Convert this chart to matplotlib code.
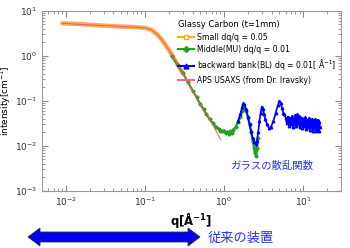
import numpy as np
import matplotlib
matplotlib.use('Agg')
import matplotlib.pyplot as plt
from matplotlib.patches import Polygon

plt.rcParams['font.family'] = ['DejaVu Sans', 'Noto Sans CJK JP']

# Small dq/q = 0.05 (SAXS, orange)
q_small = [0.009, 0.012, 0.016, 0.02, 0.03, 0.05, 0.07, 0.1, 0.12, 0.14, 0.16, 0.18, 0.21, 0.25, 0.3]
I_small = [5.3, 5.2, 5.1, 4.9, 4.7, 4.5, 4.4, 4.2, 3.8, 3.1, 2.4, 1.8, 1.2, 0.72, 0.42]

# APS USAXS (pink)
q_aps = [0.009, 0.02, 0.05, 0.1, 0.12, 0.14, 0.16, 0.18, 0.21, 0.25, 0.3, 0.4, 0.5, 0.6, 0.7, 0.8, 0.9]
I_aps = [5.3, 4.9, 4.5, 4.2, 3.8, 3.1, 2.4, 1.8, 1.2, 0.72, 0.42, 0.17, 0.085, 0.05, 0.032, 0.021, 0.014]

# Middle(MU) dq/q = 0.01 (green)
q_mid = [0.22, 0.26, 0.3, 0.35, 0.4, 0.45, 0.5, 0.55, 0.6, 0.66, 0.72, 0.8, 0.86, 0.9, 0.95, 1.0,
         1.05, 1.1, 1.15, 1.2, 1.25, 1.3, 1.4, 1.5, 1.6, 1.7, 1.8, 1.9, 2.0, 2.1, 2.2, 2.3, 2.4,
         2.45, 2.5, 2.55, 2.6, 2.7]
I_mid = [1.0, 0.62, 0.42, 0.26, 0.17, 0.12, 0.085, 0.065, 0.05, 0.039, 0.032, 0.026, 0.024, 0.022,
         0.021, 0.022, 0.019, 0.020, 0.018, 0.021, 0.019, 0.023, 0.026, 0.034, 0.045, 0.06, 0.07,
         0.06, 0.045, 0.03, 0.02, 0.013, 0.009, 0.007, 0.008, 0.006, 0.009, 0.015]

# backward bank(BL) dq = 0.01 (blue)
q_bl = [1.5, 1.6, 1.7, 1.75, 1.8, 1.9, 2.0, 2.1, 2.2, 2.3, 2.4, 2.5, 2.6, 2.7, 2.8, 2.9, 3.0,
        3.1, 3.2, 3.3, 3.5, 3.7, 3.9, 4.2, 4.5, 4.8, 5.0, 5.2, 5.4, 5.6, 5.8, 6.0, 6.2, 6.4,
        6.6, 6.8, 7.0, 7.2, 7.4, 7.6, 7.8, 8.0, 8.2, 8.4, 8.6, 8.8, 9.0, 9.2, 9.4, 9.6, 9.8,
        10.0, 10.3, 10.6, 10.9, 11.2, 11.5, 11.8, 12.1, 12.4, 12.7, 13.0, 13.3, 13.6, 13.9,
        14.2, 14.5, 14.8, 15.1, 15.4, 15.7, 16.0, 16.3]
I_bl = [0.035, 0.05, 0.075, 0.09, 0.085, 0.065, 0.045, 0.03, 0.021, 0.015, 0.012, 0.011, 0.013,
        0.02, 0.035, 0.055, 0.074, 0.065, 0.052, 0.04, 0.03, 0.025, 0.026, 0.035, 0.055, 0.08,
        0.1, 0.09, 0.07, 0.055, 0.05, 0.042, 0.032, 0.045, 0.028, 0.042, 0.03, 0.046, 0.027,
        0.04, 0.031, 0.048, 0.028, 0.05, 0.032, 0.046, 0.026, 0.044, 0.03, 0.042, 0.025, 0.04,
        0.028, 0.043, 0.024, 0.038, 0.027, 0.041, 0.023, 0.037, 0.026, 0.04, 0.022, 0.036,
        0.025, 0.039, 0.022, 0.035, 0.024, 0.038, 0.021, 0.034, 0.026]

fig = plt.figure(figsize=(3.5, 2.48), dpi=100)
ax = fig.add_axes([0.12, 0.23, 0.854, 0.726])

ax.plot(q_small, I_small, color='#FFA030', lw=3.2, alpha=0.85, solid_capstyle='round')
ax.plot(q_mid, I_mid, color='#22A022', lw=1.6, marker='D', ms=1.6)
ax.plot(q_bl, I_bl, color='#0000FF', lw=1.2, marker='^', ms=1.8)
ax.plot(q_aps, I_aps, color='#FF5060', lw=0.7)

# legend handles
h1, = ax.plot([], [], color='#FFB000', lw=1.5, marker='s', ms=3.5, mfc='white', mec='#FFB000')
h2, = ax.plot([], [], color='#22A022', lw=1.5, marker='D', ms=3)
h3, = ax.plot([], [], color='#0000FF', lw=1.5, marker='^', ms=3.5)
h4, = ax.plot([], [], color='#FF6688', lw=1.5)
leg = ax.legend([h1, h2, h3, h4],
                ['Small dq/q = 0.05', 'Middle(MU) dq/q = 0.01',
                 'backward bank(BL) dq = 0.01[ $\\mathrm{\\AA}^{-1}$]',
                 'APS USAXS (from Dr. Iravsky)'],
                title='Glassy Carbon (t=1mm)', loc='upper left',
                bbox_to_anchor=(178 / 350, 1 - 20 / 248), bbox_transform=fig.transFigure,
                frameon=False, fontsize=5.6, title_fontsize=6.0, handlelength=2.0,
                handletextpad=0.4, labelspacing=0.45, borderpad=0, borderaxespad=0)
leg._legend_box.align = 'left'

ax.set_xscale('log')
ax.set_yscale('log')
ax.set_xlim(0.005, 30)
ax.set_ylim(1e-3, 1e1)
ax.tick_params(which='both', direction='in', top=True, right=True, colors='#888888',
               labelcolor='#333333', labelsize=6.5)
ax.tick_params(which='major', length=4)
ax.tick_params(which='minor', length=2)
for s in ax.spines.values():
    s.set_color('#999999')

ax.set_xlabel('q[$\\mathbf{\\AA^{-1}}$]', fontsize=8.5, fontweight='bold', labelpad=2)
ax.set_ylabel('intensity[cm$^{-1}$]', fontsize=6.5, labelpad=1)

ax.text(0.63, 0.14, 'ガラスの散乱関数', transform=ax.transAxes, color='#2233EE',
        fontsize=7.5, family=['Noto Sans CJK JP'], va='center')

# double-headed arrow (pixel coords of the figure)
x0, x1, yc, tw, hw, hl = 28, 200, 248 - 237, 5, 9, 12
pts = [(x0, yc), (x0 + hl, yc + hw), (x0 + hl, yc + tw), (x1 - hl, yc + tw), (x1 - hl, yc + hw),
       (x1, yc), (x1 - hl, yc - hw), (x1 - hl, yc - tw), (x0 + hl, yc - tw), (x0 + hl, yc - hw)]
pts = [(px / 350, py / 248) for px, py in pts]
fig.patches.append(Polygon(pts, closed=True, transform=fig.transFigure,
                           fc='#0000EE', ec='#333333', lw=0.6))
fig.text(208 / 350, 1 - 238 / 248, '従来の装置', color='#2233EE', fontsize=9.5,
         family=['Noto Sans CJK JP'], va='center')

fig.savefig('out.png', dpi=100)
